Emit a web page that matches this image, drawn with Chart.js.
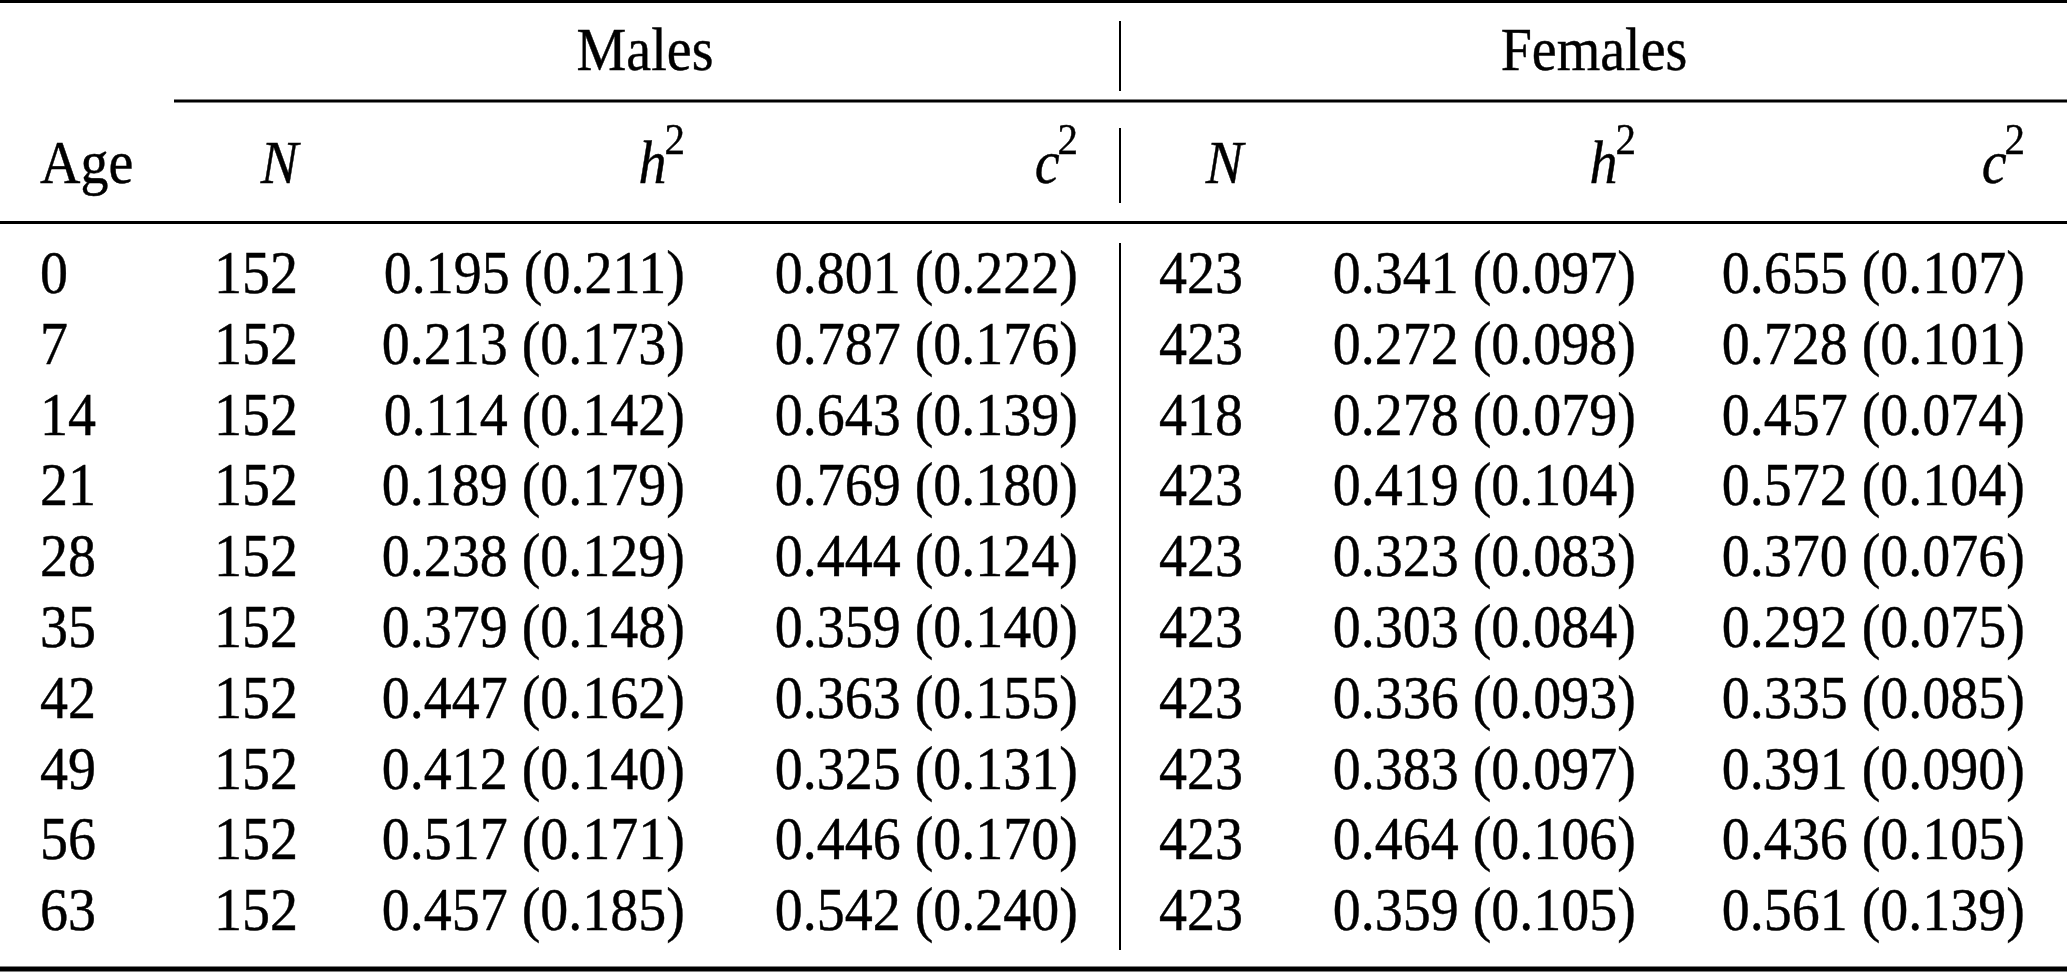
<!DOCTYPE html>
<html>
<head>
<meta charset="utf-8">
<title>Heritability by age</title>
<script src="https://cdn.jsdelivr.net/npm/chart.js@4.4.1/dist/chart.umd.min.js"></script>
<style>
  html, body { margin: 0; padding: 0; background: #fff; }
  #table { display: block; }
</style>
</head>
<body>
<canvas id="table" width="2067" height="972"></canvas>
<script>
'use strict';

/* ---------- data ---------- */
const ages       = [0, 7, 14, 21, 28, 35, 42, 49, 56, 63];
const maleN      = [152, 152, 152, 152, 152, 152, 152, 152, 152, 152];
const maleH2     = [0.195, 0.213, 0.114, 0.189, 0.238, 0.379, 0.447, 0.412, 0.517, 0.457];
const maleH2se   = [0.211, 0.173, 0.142, 0.179, 0.129, 0.148, 0.162, 0.140, 0.171, 0.185];
const maleC2     = [0.801, 0.787, 0.643, 0.769, 0.444, 0.359, 0.363, 0.325, 0.446, 0.542];
const maleC2se   = [0.222, 0.176, 0.139, 0.180, 0.124, 0.140, 0.155, 0.131, 0.170, 0.240];
const femaleN    = [423, 423, 418, 423, 423, 423, 423, 423, 423, 423];
const femaleH2   = [0.341, 0.272, 0.278, 0.419, 0.323, 0.303, 0.336, 0.383, 0.464, 0.359];
const femaleH2se = [0.097, 0.098, 0.079, 0.104, 0.083, 0.084, 0.093, 0.097, 0.106, 0.105];
const femaleC2   = [0.655, 0.728, 0.457, 0.572, 0.370, 0.292, 0.335, 0.391, 0.436, 0.561];
const femaleC2se = [0.107, 0.101, 0.074, 0.104, 0.076, 0.075, 0.085, 0.090, 0.105, 0.139];

const groupLabels  = ['Males', 'Females'];
const headerLabels = ['Age', 'N', 'h', 'c', 'N', 'h', 'c'];

/* ---------- layout (x in px units, y in row units) ---------- */
const FONT = "'Liberation Serif'";
const SIZE = 56;
const SUP_SIZE = 41;
const STRETCH = 1.1;           // reference glyphs are a bit taller than wide
const colX     = [40, 298, 685, 1078, 1243, 1636, 2025];
const colAlign = ['left', 'right', 'right', 'right', 'right', 'right', 'right'];
const groupX   = [645, 1594];
const groupY   = -3.15;
const headerY  = -1.56;
const divX     = 1120;
const vSegs    = [[-3.842, -2.853], [-2.331, -1.271], [-0.706, 9.28]];
const rules    = [
  { y: -4.117, from: 0,   to: 2067, w: 3 },   // top
  { y: -2.712, from: 174, to: 2067, w: 3 },   // under group labels
  { y: -0.996, from: 0,   to: 2067, w: 3 },   // below header
  { y: 9.548,  from: 0,   to: 2067, w: 5 }    // bottom
];

const f3 = v => v.toFixed(3);
const pair = (v, se) => v.map((x, i) => f3(x) + ' (' + f3(se[i]) + ')');

const columns = [
  ages.map(String),
  maleN.map(String),
  pair(maleH2, maleH2se),
  pair(maleC2, maleC2se),
  femaleN.map(String),
  pair(femaleH2, femaleH2se),
  pair(femaleC2, femaleC2se)
];

// text is drawn a little taller than wide and slightly heavier, like the reference
function stretchedText(ctx, text, x, y, align, font) {
  ctx.save();
  ctx.font = font;
  ctx.textAlign = align;
  ctx.textBaseline = 'alphabetic';
  ctx.translate(x, y);
  ctx.scale(1, STRETCH);
  ctx.fillText(text, 0, 0);
  ctx.lineWidth = 0.4;
  ctx.strokeText(text, 0, 0);
  ctx.restore();
}

/* ---------- plugin: draws cells, headers and rules ---------- */
const tablePlugin = {
  id: 'tablePlugin',
  afterDatasetsDraw(chart) {
    const ctx = chart.ctx;
    const sx = chart.scales.x, sy = chart.scales.y;
    const plain = SIZE + 'px ' + FONT;
    const italic = 'italic ' + SIZE + 'px ' + FONT;
    const sup = SUP_SIZE + 'px ' + FONT;
    ctx.save();
    ctx.fillStyle = '#000';
    ctx.strokeStyle = '#000';

    // body cells, one dataset per column
    chart.data.datasets.forEach((ds, c) => {
      chart.getDatasetMeta(c).data.forEach((pt, r) => {
        stretchedText(ctx, columns[c][r], pt.x, pt.y, colAlign[c], plain);
      });
    });

    // group labels
    groupLabels.forEach((g, i) => {
      stretchedText(ctx, g, sx.getPixelForValue(groupX[i]), sy.getPixelForValue(groupY), 'center', plain);
    });

    // column headers
    const hy = sy.getPixelForValue(headerY);
    headerLabels.forEach((h, i) => {
      const x = sx.getPixelForValue(colX[i]);
      if (i === 0) {
        stretchedText(ctx, h, x, hy, 'left', plain);
      } else if (h === 'N') {
        stretchedText(ctx, h, x, hy, 'right', italic);
      } else {
        ctx.font = sup;
        const wSup = ctx.measureText('2').width;
        stretchedText(ctx, h, x - wSup + 2, hy, 'right', italic);
        stretchedText(ctx, '2', x, hy - 29, 'right', sup);
      }
    });

    // horizontal rules
    rules.forEach(r => {
      ctx.lineWidth = r.w;
      ctx.beginPath();
      const y = sy.getPixelForValue(r.y);
      ctx.moveTo(sx.getPixelForValue(r.from), y);
      ctx.lineTo(sx.getPixelForValue(r.to), y);
      ctx.stroke();
    });

    // vertical divider between Males and Females
    ctx.lineWidth = 2;
    const vx = sx.getPixelForValue(divX);
    vSegs.forEach(s => {
      ctx.beginPath();
      ctx.moveTo(vx, sy.getPixelForValue(s[0]));
      ctx.lineTo(vx, sy.getPixelForValue(s[1]));
      ctx.stroke();
    });
    ctx.restore();
  }
};

/* ---------- chart ---------- */
const datasets = columns.map((col, c) => ({
  label: 'col' + c,
  data: col.map((_, r) => ({ x: colX[c], y: r })),
  pointRadius: 0,
  pointHoverRadius: 0,
  showLine: false
}));

new Chart(document.getElementById('table'), {
  type: 'scatter',
  data: { datasets },
  options: {
    responsive: false,
    animation: false,
    devicePixelRatio: 1,
    layout: { padding: 0 },
    events: [],
    plugins: { legend: { display: false }, tooltip: { enabled: false } },
    scales: {
      x: { type: 'linear', min: 0, max: 2067, display: false },
      y: { type: 'linear', min: -4.138, max: 9.591, reverse: true, display: false }
    }
  },
  plugins: [tablePlugin]
});
</script>
</body>
</html>
